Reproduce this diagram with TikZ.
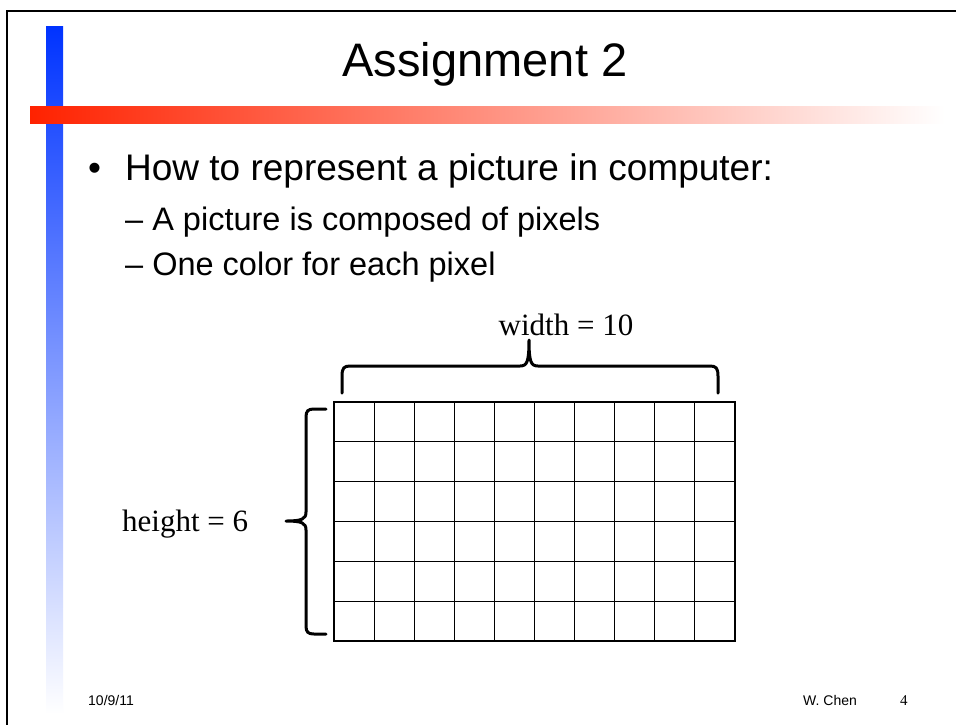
\documentclass[tikz,border=0pt]{standalone}
\usepackage{fontspec}
\setmainfont{Liberation Sans}
\newfontfamily\timesf{Liberation Serif}
\definecolor{barblue}{RGB}{0,51,255}
\definecolor{barred}{RGB}{255,34,0}
\begin{document}
\begin{tikzpicture}[x=1pt,y=-1pt,
  txt/.style={inner sep=0pt,anchor=base west},
  bracestyle/.style={line width=3pt,line cap=round,line join=round},
  gridline/.style={line width=1.1pt}]
\useasboundingbox (0,0) rectangle (956,724);
\fill[white] (0,0) rectangle (956,724);
% frame
\draw[line width=2pt] (7,726) -- (7,11) -- (958,11);
% blue bar
\shade[top color=barblue,bottom color=white] (46,26) rectangle (63,714);
% red bar
\shade[left color=barred,right color=white] (30,106) rectangle (945,123);
% title
\node[inner sep=0pt,anchor=base] (title) at (485,76) {\fontsize{47}{52}\selectfont Assignment 2};
% bullets
\node[txt] (b1) at (88,180) {\fontsize{37}{42}\selectfont •};
\node[txt] (t1) at (125,180) {\fontsize{37}{42}\selectfont How to represent a picture in computer:};
\node[txt] (t2) at (125,230) {\fontsize{32.5}{36}\selectfont – A picture is composed of pixels};
\node[txt] (t3) at (125,275) {\fontsize{32.5}{36}\selectfont – One color for each pixel};
% grid
\draw[gridline] (334,402) rectangle (735,641);
\foreach \i in {1,...,9} {\draw[gridline] ({334+\i*40.1},402) -- ({334+\i*40.1},641);}
\foreach \j in {1,...,5} {\draw[gridline] (334,{402+\j*39.83}) -- (735,{402+\j*39.83});}
% width brace
\draw[bracestyle] (342,393) -- (342,376) .. controls (342,368) and (344,366) .. (350,366)
  -- (520,366) .. controls (527,366) and (529,362) .. (529,340)
  .. controls (529,362) and (531,366) .. (538,366) -- (710,366)
  .. controls (716,366) and (718,368) .. (718,376) -- (718,393);
\node[inner sep=0pt,anchor=base] (wlabel) at (566,335) {\timesf\fontsize{31}{34}\selectfont width = 10};
% height brace
\draw[bracestyle] (326,409) -- (314,409) .. controls (308,409) and (306,411) .. (306,417)
  -- (306,512) .. controls (306,519) and (302,521) .. (286,521)
  .. controls (302,521) and (306,523) .. (306,530) -- (306,626)
  .. controls (306,632) and (308,634) .. (314,634) -- (326,634);
\node[inner sep=0pt,anchor=base west] (hlabel) at (122,531) {\timesf\fontsize{31}{34}\selectfont height = 6};
% footer
\node[txt] (date) at (88,705) {\fontsize{14}{16}\selectfont 10/9/11};
\node[txt] (author) at (803,705) {\fontsize{14}{16}\selectfont W. Chen};
\node[txt] (page) at (900,705) {\timesf\fontsize{15}{16}\selectfont 4};
\end{tikzpicture}
\end{document}
